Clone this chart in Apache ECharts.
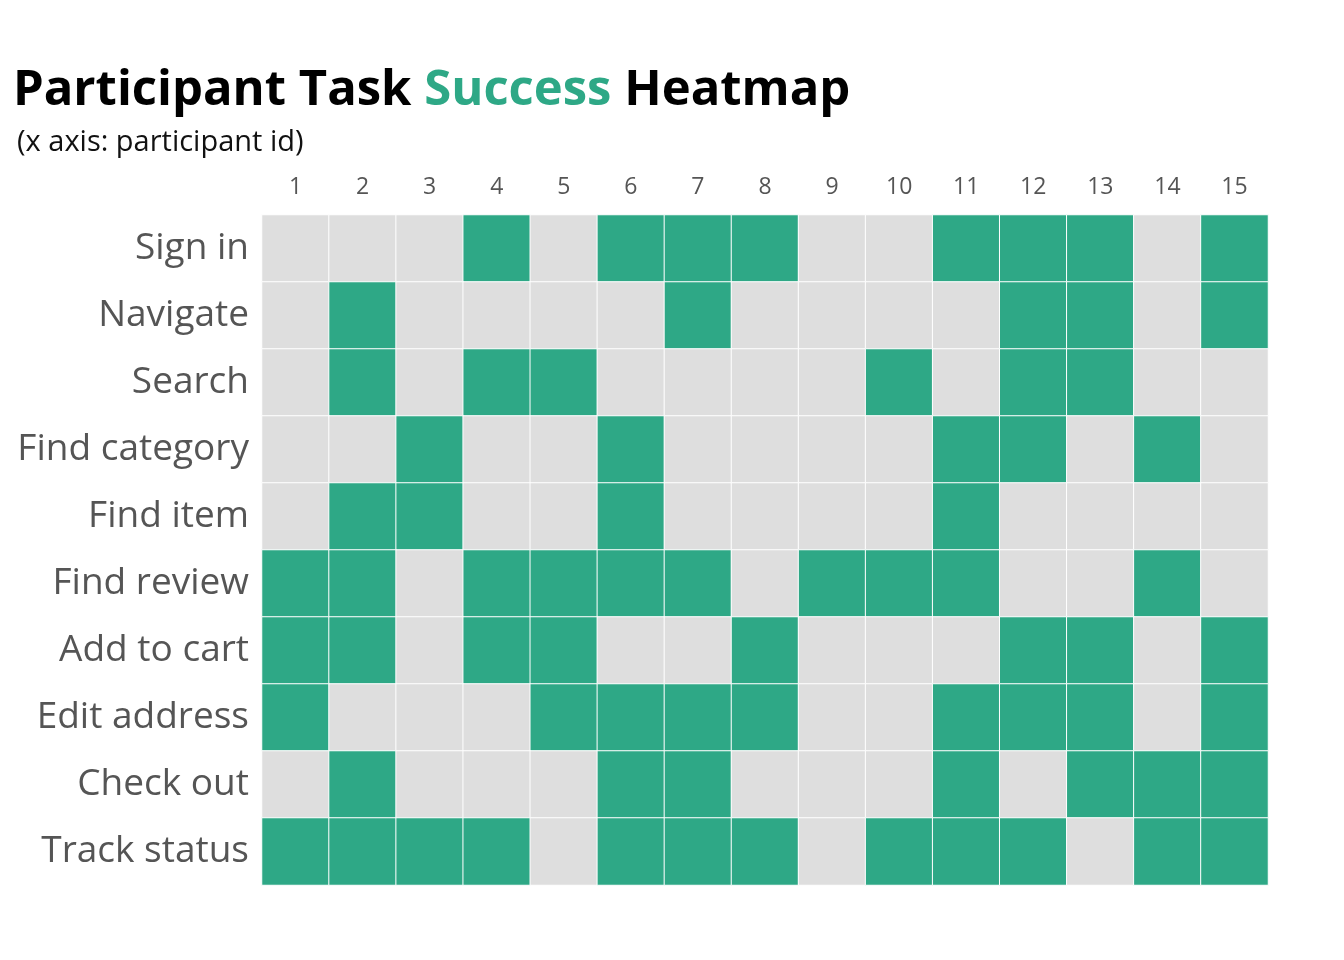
<!DOCTYPE html>
<html><head><meta charset="utf-8">
<script src="https://cdn.jsdelivr.net/npm/echarts@6/dist/echarts.min.js"></script>
<style>html,body{margin:0;padding:0;background:#fff}#c{width:1344px;height:960px}</style>
</head><body><div id="c"></div>
<script>
const participants = ['1','2','3','4','5','6','7','8','9','10','11','12','13','14','15'];
const tasks = ['Sign in','Navigate','Search','Find category','Find item','Find review','Add to cart','Edit address','Check out','Track status'];
const signIn       = [0,0,0,1,0,1,1,1,0,0,1,1,1,0,1];
const navigate     = [0,1,0,0,0,0,1,0,0,0,0,1,1,0,1];
const search       = [0,1,0,1,1,0,0,0,0,1,0,1,1,0,0];
const findCategory = [0,0,1,0,0,1,0,0,0,0,1,1,0,1,0];
const findItem     = [0,1,1,0,0,1,0,0,0,0,1,0,0,0,0];
const findReview   = [1,1,0,1,1,1,1,0,1,1,1,0,0,1,0];
const addToCart    = [1,1,0,1,1,0,0,1,0,0,0,1,1,0,1];
const editAddress  = [1,0,0,0,1,1,1,1,0,0,1,1,1,0,1];
const checkOut     = [0,1,0,0,0,1,1,0,0,0,1,0,1,1,1];
const trackStatus  = [1,1,1,1,0,1,1,1,0,1,1,1,0,1,1];
const rows = [signIn,navigate,search,findCategory,findItem,findReview,addToCart,editAddress,checkOut,trackStatus];

const data = [];
rows.forEach((r, y) => r.forEach((v, x) => data.push([x, y, v])));

const GREEN = '#2ea886', GRAY = '#dedede';
const chart = echarts.init(document.getElementById('c'));
chart.setOption({
  animation: false,
  backgroundColor: '#fff',
  title: [{
    text: '{a|Participant Task }{b|Success}{a| Heatmap}',
    left: 8, top: 62,
    textStyle: { rich: {
      a: { fontFamily: 'Open Sans', fontWeight: 'bold', fontSize: 49, color: '#000' },
      b: { fontFamily: 'Open Sans', fontWeight: 'bold', fontSize: 49, color: GREEN }
    } }
  }, {
    text: '(x axis: participant id)',
    left: 12, top: 123,
    textStyle: { fontFamily: 'Open Sans', fontWeight: 'normal', fontSize: 29, color: '#111' }
  }],
  grid: { left: 262, right: 76, top: 215, bottom: 75 },
  xAxis: {
    type: 'category', data: participants, position: 'top',
    axisLine: { show: false }, axisTick: { show: false }, splitLine: { show: false },
    axisLabel: { fontFamily: 'Open Sans', fontSize: 23, color: '#555', margin: 16 }
  },
  yAxis: {
    type: 'category', data: tasks, inverse: true,
    axisLine: { show: false }, axisTick: { show: false }, splitLine: { show: false },
    axisLabel: { fontFamily: 'Open Sans', fontSize: 37, color: '#555', margin: 13 }
  },
  visualMap: { show: false, type: 'piecewise', dimension: 2,
    pieces: [{ value: 0, color: GRAY }, { value: 1, color: GREEN }] },
  series: [{
    type: 'heatmap', data: data,
    itemStyle: { borderColor: '#fff', borderWidth: 1 },
    label: { show: false }
  }]
});
</script></body></html>
